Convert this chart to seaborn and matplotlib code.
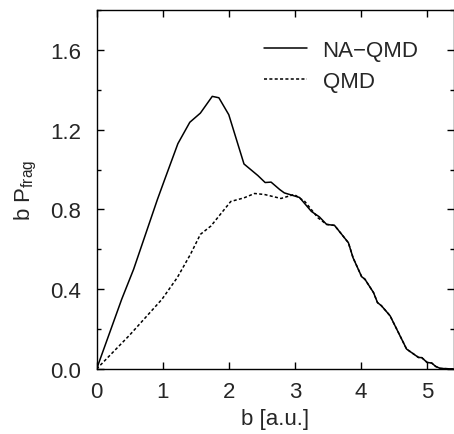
import numpy as np
import pandas as pd
import matplotlib
matplotlib.use("Agg")
import matplotlib.pyplot as plt
import seaborn as sns
from matplotlib.ticker import MultipleLocator

# ---- data ----
b_na = [0, 0.38, 0.56, 0.92, 1.03, 1.23, 1.41, 1.57, 1.75, 1.85, 2.0, 2.23, 2.44,
        2.55, 2.64, 2.77, 2.84, 3.07, 3.25, 3.37, 3.48, 3.6, 3.81, 3.88, 4.01,
        4.06, 4.19, 4.25, 4.31, 4.44, 4.59, 4.69, 4.87, 4.92, 5.0, 5.07, 5.13,
        5.2, 5.4]
p_na = [0, 0.35, 0.5, 0.85, 0.95, 1.13, 1.237, 1.283, 1.367, 1.36, 1.275, 1.028,
        0.97, 0.935, 0.937, 0.90, 0.883, 0.86, 0.79, 0.763, 0.725, 0.72, 0.633,
        0.558, 0.463, 0.45, 0.383, 0.333, 0.317, 0.267, 0.167, 0.10, 0.058,
        0.057, 0.033, 0.03, 0.013, 0.003, 0.0]

b_qmd = [0, 0.5, 0.99, 1.22, 1.42, 1.57, 1.73, 2.03, 2.23, 2.39, 2.54, 2.79, 2.99,
         3.15, 3.35, 3.48, 3.6, 3.81, 3.88, 4.01, 4.06, 4.19, 4.25, 4.31, 4.44,
         4.59, 4.69, 4.87, 4.92, 5.0, 5.07, 5.13, 5.2, 5.4]
p_qmd = [0, 0.17, 0.35, 0.458, 0.575, 0.675, 0.717, 0.84, 0.858, 0.88, 0.875,
         0.855, 0.875, 0.84, 0.758, 0.725, 0.72, 0.633, 0.558, 0.463, 0.45,
         0.383, 0.333, 0.317, 0.267, 0.167, 0.10, 0.058, 0.057, 0.033, 0.03,
         0.013, 0.003, 0.0]

labels = ["NA\u2212QMD", "QMD"]
x_ticks = [0, 1, 2, 3, 4, 5]
y_ticks = [0.0, 0.4, 0.8, 1.2, 1.6]

df = pd.concat([
    pd.DataFrame({"b": b_na, "p": p_na, "model": labels[0]}),
    pd.DataFrame({"b": b_qmd, "p": p_qmd, "model": labels[1]}),
], ignore_index=True)

sns.set_style("ticks")
plt.rcParams["font.family"] = ["Liberation Sans", "DejaVu Sans"]
plt.rcParams["mathtext.fontset"] = "custom"
plt.rcParams["mathtext.rm"] = "Liberation Sans"
plt.rcParams["mathtext.it"] = "Liberation Sans"

FS = 16

fig = plt.figure(figsize=(4.54, 4.35), dpi=100)
ax = fig.add_axes([96.6 / 454, 1 - 370 / 435, (453.5 - 96.6) / 454, (370 - 11) / 435])

sns.lineplot(data=df, x="b", y="p", hue="model", style="model",
             palette={labels[0]: "black", labels[1]: "black"},
             dashes={labels[0]: "", labels[1]: (2, 1.5)},
             sort=False, estimator=None, lw=1.1, ax=ax)

ax.set_xlim(0, 5.4)
ax.set_ylim(0, 1.8)
ax.set_xticks(x_ticks)
ax.set_xticklabels([str(t) for t in x_ticks])
ax.set_yticks(y_ticks)
ax.set_yticklabels([f"{t:.1f}" for t in y_ticks])
ax.yaxis.set_minor_locator(MultipleLocator(0.2))
ax.tick_params(which="both", direction="in", top=True, right=True,
               labelsize=FS, width=1, color="black")
ax.tick_params(which="major", length=5)
ax.tick_params(axis="y", which="major", pad=11)
ax.tick_params(axis="x", which="major", pad=9)
ax.tick_params(which="minor", length=3)
for s in ax.spines.values():
    s.set_color("black")
    s.set_linewidth(1)

ax.set_xlabel("b [a.u.]", fontsize=FS, labelpad=4)
ax.set_ylabel(r"b P$_{\rm frag}$", fontsize=FS, labelpad=8)

leg = ax.legend(loc="upper right", bbox_to_anchor=(0.958, 0.972), frameon=False,
                fontsize=FS, handlelength=1.94, handletextpad=0.68,
                labelspacing=0.43)

fig.savefig("out.png", dpi=100)
